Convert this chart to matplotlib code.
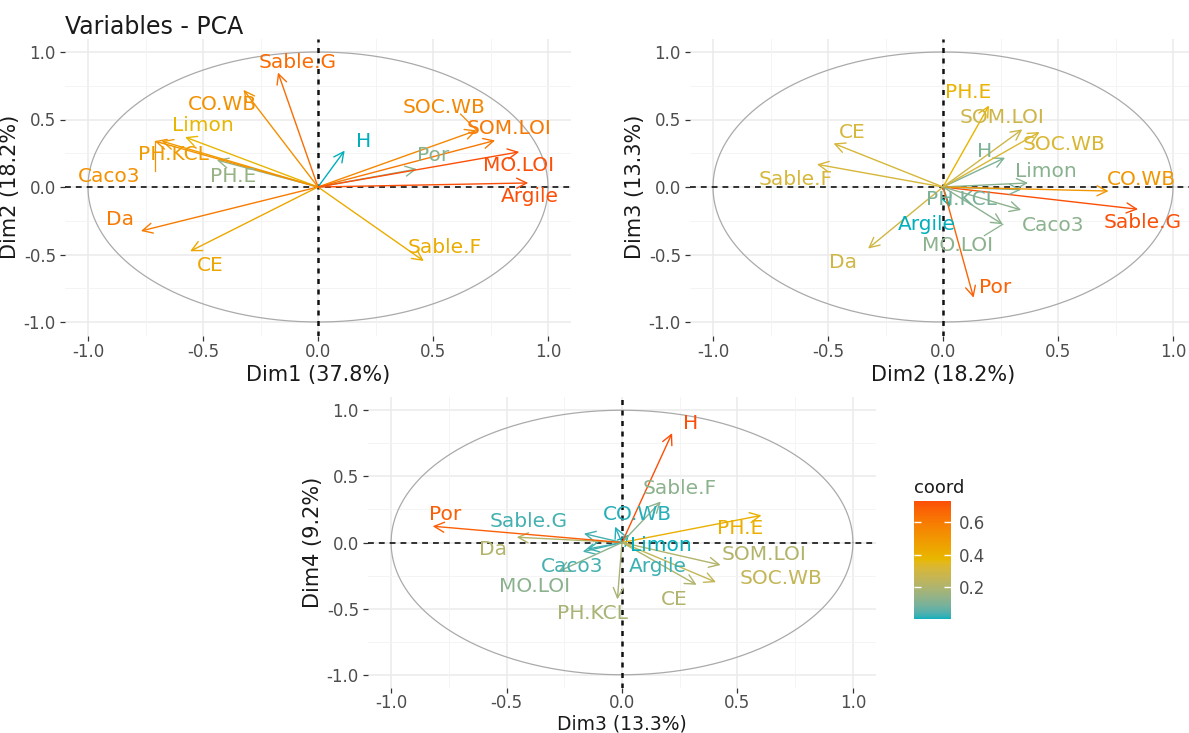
import numpy as np
import matplotlib
matplotlib.use("Agg")
import matplotlib.pyplot as plt
from matplotlib.colors import ListedColormap, Normalize, to_rgb
from matplotlib.cm import ScalarMappable

plt.rcParams["font.family"] = ["DejaVu Sans"]
plt.rcParams["axes.unicode_minus"] = False

# ---- variable coordinates on the first four principal dimensions ----
variables = ["Argile", "Limon", "Sable.F", "Sable.G", "Da", "Por", "H", "PH.E",
             "PH.KCL", "Caco3", "CE", "CO.WB", "SOC.WB", "SOM.LOI", "MO.LOI"]
dim1 = [0.914, -0.578, 0.46, -0.174, -0.77, 0.43, 0.116, -0.44,
        -0.68, -0.71, -0.556, -0.324, 0.69, 0.77, 0.875]
dim2 = [0.03, 0.37, -0.548, 0.848, -0.326, 0.133, 0.27, 0.20,
        0.34, 0.34, -0.476, 0.72, 0.42, 0.345, 0.26]
dim3 = [-0.15, 0.03, 0.168, -0.165, -0.456, -0.82, 0.217, 0.604,
        -0.02, -0.17, 0.323, -0.03, 0.407, 0.427, -0.276]
dim4 = [-0.05, 0.06, 0.31, 0.067, 0.04, 0.123, 0.827, 0.205,
        -0.43, -0.07, -0.32, 0.12, -0.30, -0.17, -0.22]
explained = [37.8, 18.2, 13.3, 9.2]
dims = [dim1, dim2, dim3, dim4]
gradient_colors = ["#00AFBB", "#E7B800", "#FC4E07"]

# ---- label placement (repelled positions) per panel ----
labels_12 = {
    "Sable.G": (-0.09, 0.925), "CO.WB": (-0.415, 0.61), "Limon": (-0.50, 0.457),
    "PH.KCL": (-0.63, 0.24), "Caco3": (-0.91, 0.08), "PH.E": (-0.37, 0.08),
    "Da": (-0.86, -0.24), "CE": (-0.47, -0.58), "Sable.F": (0.55, -0.45),
    "Argile": (0.92, -0.07), "MO.LOI": (0.87, 0.16), "SOM.LOI": (0.83, 0.43),
    "SOC.WB": (0.55, 0.59), "Por": (0.50, 0.23), "H": (0.20, 0.34),
}
links_12 = {"Caco3": (-0.71, 0.12), "SOC.WB": (0.62, 0.54)}

labels_23 = {
    "PH.E": (0.111, 0.698), "SOM.LOI": (0.258, 0.513), "SOC.WB": (0.527, 0.316),
    "H": (0.18, 0.266), "Limon": (0.446, 0.118), "CO.WB": (0.862, 0.057),
    "Sable.G": (0.87, -0.264), "Caco3": (0.478, -0.284), "PH.KCL": (0.078, -0.091),
    "Argile": (-0.069, -0.276), "MO.LOI": (0.062, -0.436), "Por": (0.225, -0.745),
    "Da": (-0.436, -0.56), "CE": (-0.395, 0.402), "Sable.F": (-0.64, 0.057),
}
links_23 = {"MO.LOI": (0.18, -0.36)}

labels_34 = {
    "H": (0.296, 0.90), "Por": (-0.766, 0.215), "Sable.G": (-0.404, 0.16),
    "Da": (-0.56, -0.05), "CO.WB": (0.065, 0.215), "Sable.F": (0.25, 0.41),
    "PH.E": (0.513, 0.106), "Limon": (0.17, -0.025), "SOM.LOI": (0.614, -0.09),
    "SOC.WB": (0.69, -0.27), "Argile": (0.154, -0.18), "Caco3": (-0.218, -0.18),
    "MO.LOI": (-0.377, -0.333), "PH.KCL": (-0.13, -0.536), "CE": (0.225, -0.432),
}
links_34 = {}


# ---- colour ramp interpolated in CIELAB space ----
_M = np.array([[0.4124564, 0.3575761, 0.1804375],
               [0.2126729, 0.7151522, 0.0721750],
               [0.0193339, 0.1191920, 0.9503041]])
_WHITE = np.array([0.95047, 1.0, 1.08883])


def srgb_to_lab(rgb):
    c = np.asarray(rgb, float)
    lin = np.where(c <= 0.04045, c / 12.92, ((c + 0.055) / 1.055) ** 2.4)
    xyz = _M @ lin / _WHITE
    f = np.where(xyz > 216 / 24389, np.cbrt(xyz), (24389 / 27 * xyz + 16) / 116)
    return np.array([116 * f[1] - 16, 500 * (f[0] - f[1]), 200 * (f[1] - f[2])])


def lab_to_srgb(lab):
    L, a, b = lab
    fy = (L + 16) / 116
    fx = fy + a / 500
    fz = fy - b / 200
    f = np.array([fx, fy, fz])
    xyz = np.where(f ** 3 > 216 / 24389, f ** 3, (116 * f - 16) / (24389 / 27))
    lin = np.linalg.solve(_M, xyz * _WHITE)
    lin = np.clip(lin, 0, 1)
    c = np.where(lin <= 0.0031308, 12.92 * lin, 1.055 * lin ** (1 / 2.4) - 0.055)
    return np.clip(c, 0, 1)


def lab_ramp(colors, n=256):
    labs = [srgb_to_lab(to_rgb(c)) for c in colors]
    stops = np.linspace(0, 1, len(colors))
    out = []
    for t in np.linspace(0, 1, n):
        k = min(np.searchsorted(stops, t, side="right") - 1, len(colors) - 2)
        u = (t - stops[k]) / (stops[k + 1] - stops[k])
        out.append(lab_to_srgb(labs[k] * (1 - u) + labs[k + 1] * u))
    return ListedColormap(out, name="coord")


cmap = lab_ramp(gradient_colors)

W, H = 1189, 733
fig = plt.figure(figsize=(W / 100, H / 100), dpi=100)

LABEL_FS = 14.5
TICK_FS = 12
AXIS_FS = 15


def px_axes(x0, y0, x1, y1):
    """Axes from pixel bounds (left, top, right, bottom)."""
    return fig.add_axes([x0 / W, 1 - y1 / H, (x1 - x0) / W, (y1 - y0) / H])


def draw_panel(ax, i, j, labels, links):
    xs = np.array(dims[i])
    ys = np.array(dims[j])
    coord = xs ** 2 + ys ** 2
    norm = Normalize(vmin=coord.min(), vmax=coord.max())

    lim = 1.1
    ax.set_xlim(-lim, lim)
    ax.set_ylim(-lim, lim)
    for s in ax.spines.values():
        s.set_visible(False)

    major = [-1.0, -0.5, 0.0, 0.5, 1.0]
    minor = [-0.75, -0.25, 0.25, 0.75]
    for v in major:
        ax.axvline(v, color="#EBEBEB", lw=1.1, zorder=0)
        ax.axhline(v, color="#EBEBEB", lw=1.1, zorder=0)
    for v in minor:
        ax.axvline(v, color="#F3F3F3", lw=0.6, zorder=0)
        ax.axhline(v, color="#F3F3F3", lw=0.6, zorder=0)

    t = np.linspace(0, 2 * np.pi, 400)
    ax.plot(np.cos(t), np.sin(t), color="#AAAAAA", lw=0.9, zorder=1)

    ax.axhline(0, color="#111111", lw=1.2, ls=(0, (3.5, 3)), zorder=2)
    ax.axvline(0, color="#111111", lw=1.8, ls=(0, (2, 2.2)), zorder=2)

    ax.set_xticks(major)
    ax.set_yticks(major)
    ax.set_xticklabels([f"{v:.1f}" for v in major])
    ax.set_yticklabels([f"{v:.1f}" for v in major])
    ax.tick_params(axis="both", length=3.5, width=0.9, color="#333333",
                   labelcolor="#4D4D4D", labelsize=TICK_FS, pad=3)
    ax.tick_params(axis="x", pad=2)

    for k, name in enumerate(variables):
        c = cmap(norm(coord[k]))
        ax.annotate("", xy=(xs[k], ys[k]), xytext=(0, 0),
                    arrowprops=dict(arrowstyle="->,head_length=0.6,head_width=0.3",
                                    color=c, lw=1.0, shrinkA=0, shrinkB=0,
                                    mutation_scale=12),
                    zorder=3)
        if name in links:
            lx, ly = links[name]
            ax.plot([lx, xs[k]], [ly, ys[k]], color=c, lw=0.9, zorder=3)
        tx, ty = labels[name]
        ax.text(tx, ty, name, color=c, fontsize=LABEL_FS, ha="center",
                va="center", zorder=4)

    ax.set_xlabel(f"Dim{i + 1} ({explained[i]}%)", fontsize=AXIS_FS,
                  color="#1A1A1A", labelpad=3)
    ax.set_ylabel(f"Dim{j + 1} ({explained[j]}%)", fontsize=AXIS_FS,
                  color="#1A1A1A", labelpad=3)
    return norm


ax1 = px_axes(65, 38.5, 571, 335.5)
draw_panel(ax1, 0, 1, labels_12, links_12)
ax1.set_title("Variables - PCA", loc="left", fontsize=17, color="#1A1A1A",
              pad=2, x=0.0)

ax2 = px_axes(690, 38.5, 1196, 335.5)
draw_panel(ax2, 1, 2, labels_23, links_23)

ax3 = px_axes(368, 397, 876, 688)
norm3 = draw_panel(ax3, 2, 3, labels_34, links_34)
# bottom panel: axis title sits tight against the lower edge
ax3.tick_params(axis="x", pad=1)
ax3.xaxis.label.set_fontsize(13.5)
ax3.xaxis.set_label_coords(0.5, -0.092)

# ---- colour legend ----
cax = px_axes(914, 501, 951, 619)
cb = fig.colorbar(ScalarMappable(norm=norm3, cmap=cmap), cax=cax)
cb.outline.set_visible(False)
cb.set_ticks([0.2, 0.4, 0.6])
cb.set_ticklabels(["0.2", "0.4", "0.6"])
cax.tick_params(left=True, right=True, labelleft=False, labelright=True,
                direction="in", color="white", length=5, width=1,
                labelsize=TICK_FS, labelcolor="#4D4D4D", pad=6)
fig.text(914 / W, 1 - 488 / H, "coord", fontsize=13, color="#1A1A1A",
         ha="left", va="center")

fig.savefig("out.png", dpi=100)
